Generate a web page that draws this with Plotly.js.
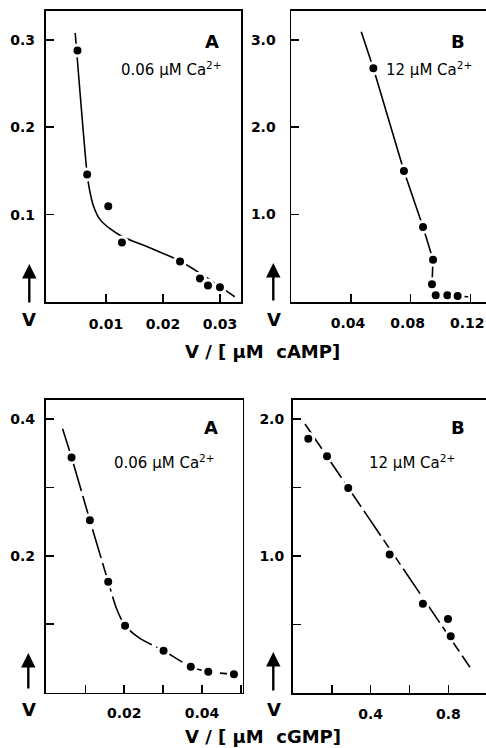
<!DOCTYPE html>
<html><head><meta charset="utf-8">
<script src="https://cdn.plot.ly/plotly-3.0.1.min.js"></script>
<style>html,body{margin:0;padding:0;overflow:hidden;background:#fff}</style>
</head><body><div id="chart" style="width:490px;height:748px"></div>
<script>
// ---- Data: top-left (cAMP, 0.06 µM Ca2+) ----
const campA_pointsX = [0.0050, 0.0067, 0.0104, 0.0128, 0.0230, 0.0265, 0.0279, 0.0300];
const campA_pointsY = [0.288, 0.146, 0.1095, 0.068, 0.0463, 0.027, 0.019, 0.017];
const campA_curveX = [0.0046, 0.0067, 0.0071, 0.0078, 0.0090, 0.0107, 0.0130, 0.0177, 0.0230, 0.0265, 0.0326];
const campA_curveY = [0.308, 0.146, 0.129, 0.110, 0.094, 0.084, 0.0745, 0.062, 0.047, 0.033, 0.006];

// ---- Data: top-right (cAMP, 12 µM Ca2+) ----
const campB_pointsX = [0.0550, 0.0755, 0.0883, 0.0950, 0.0943, 0.0968, 0.1046, 0.1115];
const campB_pointsY = [2.673, 1.497, 0.856, 0.481, 0.199, 0.073, 0.073, 0.065];
const campB_curveX = [0.0469, 0.0550, 0.0755, 0.0883, 0.0950, 0.0943, 0.0968, 0.1186];
const campB_curveY = [3.093, 2.673, 1.497, 0.856, 0.481, 0.199, 0.073, 0.057];

// ---- Data: bottom-left (cGMP, 0.06 µM Ca2+) ----
const cgmpA_pointsX = [0.00645, 0.01116, 0.01587, 0.0202, 0.0301, 0.0371, 0.0416, 0.0482];
const cgmpA_pointsY = [0.344, 0.252, 0.162, 0.0978, 0.0612, 0.0378, 0.0305, 0.0266];
const cgmpA_curveX = [0.00414, 0.00645, 0.01116, 0.01587, 0.0180, 0.0202, 0.0240, 0.0301, 0.0371, 0.0416, 0.0482];
const cgmpA_curveY = [0.386, 0.344, 0.252, 0.162, 0.123, 0.0978, 0.0793, 0.0612, 0.0378, 0.0305, 0.0266];

// ---- Data: bottom-right (cGMP, 12 µM Ca2+) ----
const cgmpB_pointsX = [0.0797, 0.176, 0.285, 0.498, 0.669, 0.798, 0.812];
const cgmpB_pointsY = [1.856, 1.728, 1.496, 1.012, 0.652, 0.540, 0.414];
const cgmpB_lineX = [0.0627, 0.911];
const cgmpB_lineY = [1.964, 0.188];

// ---- Tick labels (major) and minor tick steps ----
const campA_xTicks = [0.01, 0.02, 0.03], campA_xText = ['0.01', '0.02', '0.03'];
const campA_yTicks = [0.1, 0.2, 0.3], campA_yText = ['0.1', '0.2', '0.3'];
const campB_xTicks = [0.04, 0.08, 0.12], campB_xText = ['0.04', '0.08', '0.12'];
const campB_yTicks = [1, 2, 3], campB_yText = ['1.0', '2.0', '3.0'];
const cgmpA_xTicks = [0.02, 0.04], cgmpA_xText = ['0.02', '0.04'], cgmpA_xMinor = 0.01;
const cgmpA_yTicks = [0.2, 0.4], cgmpA_yText = ['0.2', '0.4'], cgmpA_yMinor = 0.1;
const cgmpB_xTicks = [0.4, 0.8], cgmpB_xText = ['0.4', '0.8'], cgmpB_xMinor = 0.2;
const cgmpB_yTicks = [1.0, 2.0], cgmpB_yText = ['1.0', '2.0'], cgmpB_yMinor = 0.5;

const W = 490, H = 748;
const FONT = 'DejaVu Sans, Liberation Sans, sans-serif';
const px = v => v / W;
const py = v => 1 - v / H;

function curve(x, y, xa, ya, dash, shape) {
  return {x: x, y: y, xaxis: xa, yaxis: ya, mode: 'lines', type: 'scatter',
    line: {color: '#000', width: 1.6, dash: dash, shape: shape, smoothing: 0.7},
    hoverinfo: 'skip', showlegend: false};
}
function dots(x, y, xa, ya) {
  return {x: x, y: y, xaxis: xa, yaxis: ya, mode: 'markers', type: 'scatter',
    marker: {color: '#000', size: 11, line: {color: '#fff', width: 3}},
    showlegend: false};
}
const data = [
  curve(campA_curveX, campA_curveY, 'x', 'y', 'solid', 'spline'),
  dots(campA_pointsX, campA_pointsY, 'x', 'y'),
  curve(campB_curveX, campB_curveY, 'x2', 'y2', 'solid', 'linear'),
  dots(campB_pointsX, campB_pointsY, 'x2', 'y2'),
  curve(cgmpA_curveX, cgmpA_curveY, 'x3', 'y3', '30px,5px', 'spline'),
  dots(cgmpA_pointsX, cgmpA_pointsY, 'x3', 'y3'),
  curve(cgmpB_lineX, cgmpB_lineY, 'x4', 'y4', '30px,5px', 'linear'),
  dots(cgmpB_pointsX, cgmpB_pointsY, 'x4', 'y4')
];

function ax(domain, range, tv, tt, anchor, standoff, minorStep, shift) {
  const a = {domain: domain, range: range, anchor: anchor, tickmode: 'array', tickvals: tv, ticktext: tt,
    showline: true, mirror: true, linecolor: '#000', linewidth: 1.8,
    ticks: 'inside', ticklen: 8, tickwidth: 1.6, tickcolor: '#000',
    showgrid: false, zeroline: false, ticklabelstandoff: standoff, ticklabelshift: shift || 0,
    tickfont: {family: FONT, size: 14, color: '#000', weight: 'bold'}};
  if (minorStep) {
    a.minor = {tickmode: 'linear', tick0: 0, dtick: minorStep, ticks: 'inside', ticklen: 8,
      tickwidth: 1.6, tickcolor: '#000', showgrid: false};
  }
  return a;
}

const layout = {
  width: W, height: H, margin: {l: 0, r: 0, t: 0, b: 0},
  paper_bgcolor: '#fff', plot_bgcolor: '#fff', showlegend: false,
  xaxis: ax([px(45.7), px(241)], [-0.00058, 0.0337], campA_xTicks, campA_xText, 'y', 8),
  yaxis: ax([py(302), py(10.5)], [0, 0.3337], campA_yTicks, campA_yText, 'x', 6),
  xaxis2: ax([px(291.3), 1], [0, 0.1332], campB_xTicks, campB_xText, 'y2', 8, null, -3),
  yaxis2: ax([py(301.7), py(11)], [0, 3.33], campB_yTicks, campB_yText, 'x2', 11),
  xaxis3: ax([px(45.7), px(242.5)], [-0.0002, 0.0504], cgmpA_xTicks, cgmpA_xText, 'y3', 7, cgmpA_xMinor),
  yaxis3: ax([py(692.5), py(400)], [0, 0.428], cgmpA_yTicks, cgmpA_yText, 'x3', 6, cgmpA_yMinor),
  xaxis4: ax([px(292.8), 1], [0, 1.014], cgmpB_xTicks, cgmpB_xText, 'y4', 7, cgmpB_xMinor),
  yaxis4: ax([py(693), py(400)], [0, 2.139], cgmpB_yTicks, cgmpB_yText, 'x4', 4, cgmpB_yMinor),
  annotations: []
};

function txt(x, y, text, size, bold, xanchor) {
  layout.annotations.push({xref: 'paper', yref: 'paper', x: px(x), y: py(y), text: text,
    showarrow: false, xanchor: xanchor || 'center', yanchor: 'middle',
    font: {family: FONT, size: size, color: '#000', weight: bold ? 'bold' : 'normal'}});
}
function arrow(x, yTip, len) {
  layout.annotations.push({xref: 'paper', yref: 'paper', x: px(x), y: py(yTip), text: '',
    showarrow: true, ax: 0, ay: len, arrowhead: 2, arrowsize: 1.2, arrowwidth: 2.4, arrowcolor: '#000'});
}
const caLow = '0.06 µM Ca<sup>2+</sup>', caHigh = '12 µM Ca<sup>2+</sup>';
txt(211.7, 41.7, 'A', 18, true);
txt(119, 69, caLow, 15, false, 'left');
txt(458.3, 41.7, 'B', 18, true);
txt(384, 69, caHigh, 15, false, 'left');
txt(211, 427.3, 'A', 18, true);
txt(112, 462, caLow, 15, false, 'left');
txt(458.3, 427.3, 'B', 18, true);
txt(367, 462, caHigh, 15, false, 'left');
txt(262.5, 351.5, 'V / [ µM\u00a0\u00a0cAMP]', 18, true);
txt(262.5, 736.5, 'V / [ µM\u00a0\u00a0cGMP]', 18, true);
txt(29, 319, 'V', 18, true);
txt(273.5, 319, 'V', 18, true);
txt(28.5, 709, 'V', 18, true);
txt(274, 709, 'V', 18, true);
arrow(29.3, 264, 40);
arrow(273.3, 263, 39);
arrow(28.3, 653, 37);
arrow(273.3, 652, 40);

Plotly.newPlot('chart', data, layout, {displayModeBar: false, staticPlot: true});
</script></body></html>
